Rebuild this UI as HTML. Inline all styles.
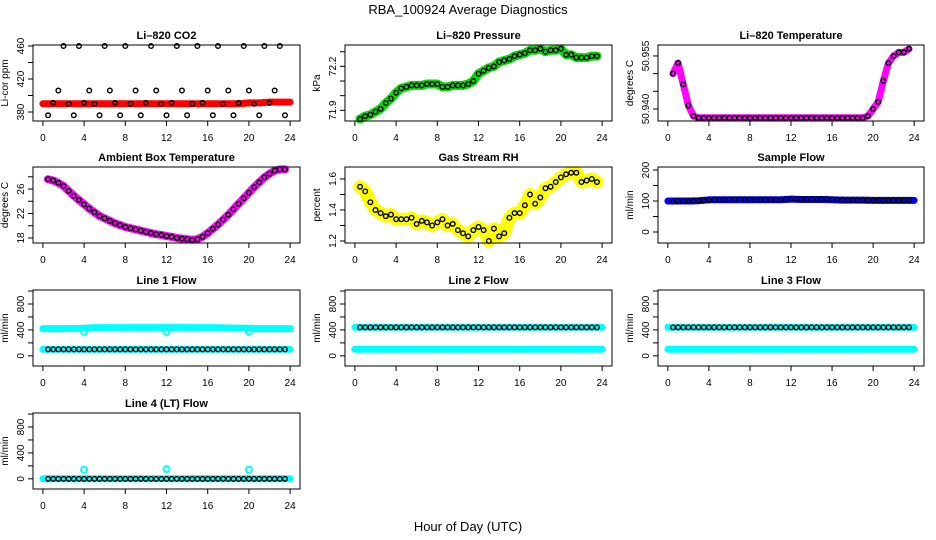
<!DOCTYPE html>
<html><head><meta charset="utf-8">
<style>
html,body{margin:0;padding:0;background:#fff;}
svg{display:block;font-family:"Liberation Sans",Arial,sans-serif;}
</style></head>
<body>
<svg id="chart" width="936" height="540" viewBox="0 0 936 540" xmlns="http://www.w3.org/2000/svg">
<text x="468" y="14" text-anchor="middle" font-size="13">RBA_100924  Average Diagnostics</text>
<text x="468" y="531" text-anchor="middle" font-size="13">Hour of Day (UTC)</text>
</svg>
<script>
const xTicks = [0,4,8,12,16,20,24];
const pointHours = [0.5,1,1.5,2,2.5,3,3.5,4,4.5,5,5.5,6,6.5,7,7.5,8,8.5,9,9.5,10,10.5,11,11.5,12,12.5,13,13.5,14,14.5,15,15.5,16,16.5,17,17.5,18,18.5,19,19.5,20,20.5,21,21.5,22,22.5,23,23.5];
const knotHours = [0,1,2,3,4,5,6,7,8,9,10,11,12,13,14,15,16,17,18,19,20,21,22,23,24];

const co2Points = [376,391,406,460,390,376,460,391,406,390,376,460,406,391,376,460,390,406,376,391,460,406,390,376,391,460,406,376,390,460,391,406,376,460,390,406,376,391,460,406,390,376,460,391,406,460,376];
const co2Band = [390,390,390,390,390,390,390,390,390,390,390,390,390,390,390,390,390,390,390,390,391,391,392,392,392];
const pressurePoints = [71.84,71.86,71.87,71.89,71.91,71.95,71.98,72.02,72.05,72.06,72.07,72.07,72.07,72.08,72.08,72.08,72.06,72.06,72.07,72.07,72.07,72.08,72.10,72.15,72.17,72.19,72.20,72.23,72.24,72.25,72.27,72.28,72.29,72.31,72.31,72.32,72.30,72.31,72.31,72.32,72.28,72.28,72.26,72.26,72.26,72.27,72.27];
const tempPoints = [50.950,50.953,50.947,50.941,50.938,50.9375,50.9375,50.9375,50.9375,50.9375,50.9375,50.9375,50.9375,50.9375,50.9375,50.9375,50.9375,50.9375,50.9375,50.9375,50.9375,50.9375,50.9375,50.9375,50.9375,50.9375,50.9375,50.9375,50.9375,50.9375,50.9375,50.9375,50.9375,50.9375,50.9375,50.9375,50.9375,50.9375,50.938,50.940,50.942,50.948,50.953,50.955,50.956,50.956,50.957];
const ambientPoints = [27.6,27.4,27,26.5,25.7,24.9,24.2,23.5,22.8,22.2,21.6,21.2,20.8,20.4,20.1,19.8,19.6,19.4,19.2,19,18.8,18.6,18.5,18.3,18.2,18,17.9,17.8,17.7,17.8,18.2,18.8,19.5,20.2,21,21.8,22.7,23.6,24.5,25.4,26.3,27.1,27.9,28.5,29,29.2,29.2];
const rhPoints = [1.55,1.52,1.45,1.40,1.38,1.36,1.37,1.34,1.34,1.34,1.35,1.31,1.33,1.32,1.30,1.32,1.34,1.30,1.31,1.27,1.25,1.23,1.27,1.29,1.27,1.20,1.28,1.23,1.25,1.35,1.38,1.38,1.43,1.50,1.44,1.48,1.54,1.55,1.58,1.61,1.63,1.64,1.64,1.58,1.59,1.60,1.58];
const samplePoints = [98,99,99,100,100,101,101,102,104,104,104,105,105,105,105,105,104,104,104,104,104,104,105,106,106,106,106,106,106,106,106,105,104,104,103,103,103,103,102,102,102,102,102,102,102,102,102];
const sampleBand = [100,100,100,101,104,104,104,104,104,104,104,104,106,105,105,105,104,103,103,103,102,102,102,102,102];
const line1Points = [100,100,100,100,100,100,100,100,100,100,100,100,100,100,100,100,100,100,100,100,100,100,100,100,100,100,100,100,100,100,100,100,100,100,100,100,100,100,100,100,100,100,100,100,100,100,100];
const line1High = [420,420,420,420,425,432,435,435,435,435,435,435,435,435,435,435,435,432,430,428,425,420,420,420,420];
const line1Low = [100,100,100,100,100,100,100,100,100,100,100,100,100,100,100,100,100,100,100,100,100,100,100,100,100];
const line2Points = [440,440,440,440,440,440,440,440,440,440,440,440,440,440,440,440,440,440,440,440,440,440,440,440,440,440,440,440,440,440,440,440,440,440,440,440,440,440,440,440,440,440,440,440,440,440,440];
const line2High = [440,440,440,440,440,440,440,440,440,440,440,440,440,440,440,440,440,440,440,440,440,440,440,440,440];
const line2Low = [100,100,100,100,100,100,100,100,100,100,100,100,100,100,100,100,100,100,100,100,100,100,100,100,100];
const line3Points = [440,440,440,440,440,440,440,440,440,440,440,440,440,440,440,440,440,440,440,440,440,440,440,440,440,440,440,440,440,440,440,440,440,440,440,440,440,440,440,440,440,440,440,440,440,440,440];
const line3High = [440,440,440,440,440,440,440,440,440,440,440,440,440,440,440,440,440,440,440,440,440,440,440,440,440];
const line3Low = [100,100,100,100,100,100,100,100,100,100,100,100,100,100,100,100,100,100,100,100,100,100,100,100,100];
const line4Points = [0,0,0,0,0,0,0,0,0,0,0,0,0,0,0,0,0,0,0,0,0,0,0,0,0,0,0,0,0,0,0,0,0,0,0,0,0,0,0,0,0,0,0,0,0,0,0];
const line4Band = [0,0,0,0,0,0,0,0,0,0,0,0,0,0,0,0,0,0,0,0,0,0,0,0,0];
const outlierHours = [4,12,20];
const line1Outliers = [370,370,370];
const line4Outliers = [140,150,140];

const flowTicks = [0,200,400,600,800,1000];
const flowLabels = ['0','','400','','800',''];

const panels = [
 {name:'co2',title:'Li\u2013820 CO2',ylab:'Li-cor ppm',col:0,row:0,ylim:[369.1,461.2],ticks:[380,400,420,440,460],labels:['380','','420','','460'],
  bands:[{h:knotHours,v:co2Band,c:'#ff0000',w:7}],pts:co2Points},
 {name:'pressure',title:'Li\u2013820 Pressure',ylab:'kPa',col:1,row:0,ylim:[71.827,72.346],ticks:[71.9,72.0,72.1,72.2,72.3],labels:['71.9','','','72.2',''],
  bands:[{h:pointHours,v:pressurePoints,c:'#00dd00',w:9}],pts:pressurePoints},
 {name:'temperature',title:'Li\u2013820 Temperature',ylab:'degrees C',col:2,row:0,ylim:[50.9366,50.9581],ticks:[50.940,50.945,50.950,50.955],labels:['50.940','','','50.955'],
  bands:[{h:pointHours,v:tempPoints,c:'#ff00ff',w:7}],pts:tempPoints},
 {name:'ambient',title:'Ambient Box Temperature',ylab:'degrees C',col:0,row:1,ylim:[17.18,29.6],ticks:[18,20,22,24,26,28],labels:['18','','22','','26',''],
  bands:[{h:pointHours,v:ambientPoints,c:'#ff00ff',w:8}],pts:ambientPoints},
 {name:'gas-rh',title:'Gas Stream RH',ylab:'percent',col:1,row:1,ylim:[1.187,1.677],ticks:[1.2,1.3,1.4,1.5,1.6],labels:['1.2','','1.4','','1.6'],
  bands:[{h:pointHours,v:rhPoints,c:'#ffff00',w:13}],pts:rhPoints},
 {name:'sample-flow',title:'Sample Flow',ylab:'ml/min',col:2,row:1,ylim:[-35.5,209.7],ticks:[0,50,100,150,200],labels:['0','','100','','200'],
  bands:[{h:knotHours,v:sampleBand,c:'#0000ff',w:7}],pts:samplePoints},
 {name:'line1-flow',title:'Line 1 Flow',ylab:'ml/min',col:0,row:2,ylim:[-157,1016],ticks:flowTicks,labels:flowLabels,
  bands:[{h:knotHours,v:line1High,c:'#00ffff',w:7},{h:knotHours,v:line1Low,c:'#00ffff',w:7}],pts:line1Points,out:line1Outliers},
 {name:'line2-flow',title:'Line 2 Flow',ylab:'ml/min',col:1,row:2,ylim:[-157,1016],ticks:flowTicks,labels:flowLabels,
  bands:[{h:knotHours,v:line2High,c:'#00ffff',w:7},{h:knotHours,v:line2Low,c:'#00ffff',w:7}],pts:line2Points},
 {name:'line3-flow',title:'Line 3 Flow',ylab:'ml/min',col:2,row:2,ylim:[-157,1016],ticks:flowTicks,labels:flowLabels,
  bands:[{h:knotHours,v:line3High,c:'#00ffff',w:7},{h:knotHours,v:line3Low,c:'#00ffff',w:7}],pts:line3Points},
 {name:'line4-flow',title:'Line 4 (LT) Flow',ylab:'ml/min',col:0,row:3,ylim:[-157,1016],ticks:flowTicks,labels:flowLabels,
  bands:[{h:knotHours,v:line4Band,c:'#00ffff',w:7}],pts:line4Points,out:line4Outliers}
];

const NS='http://www.w3.org/2000/svg';
const svg=document.getElementById('chart');
function mk(tag,attrs,parent){const e=document.createElementNS(NS,tag);for(const k in attrs)e.setAttribute(k,attrs[k]);(parent||svg).appendChild(e);return e;}

const colX=[[33,300],[345,612],[658,924]];
const rowTop=[45,167,290,413];
const boxH=76;

panels.forEach(p=>{
  const g=mk('g',{});
  
  
  const L=colX[p.col][0], R=colX[p.col][1], T=rowTop[p.row], B=T+boxH;
  const xs=h=>L+(h+0.96)/(25.92)*(R-L);
  const ys=v=>B-(v-p.ylim[0])/(p.ylim[1]-p.ylim[0])*(B-T);
  const t=mk('text',{x:(L+R)/2,y:T-6,'text-anchor':'middle','font-size':11,'font-weight':'bold'},g);
  t.textContent=p.title;
  
  
  const yl=mk('text',{x:0,y:0,'text-anchor':'middle','font-size':10,transform:`translate(${L-25},${(T+B)/2}) rotate(-90)`},g);
  yl.textContent=p.ylab;
  
  
  p.bands.forEach(b=>{
    const pts=b.h.map((h,i)=>xs(h).toFixed(1)+','+ys(b.v[i]).toFixed(1)).join(' ');
    const pl=mk('polyline',{points:pts,fill:'none',stroke:b.c,'stroke-width':b.w,'stroke-linejoin':'round','stroke-linecap':'round'},g);
    
    
  });
  if(p.out){
    outlierHours.forEach((h,i)=>{
      const c=mk('circle',{cx:xs(h),cy:ys(p.out[i]),r:3,fill:'none',stroke:'#00ffff','stroke-width':2},g);
      
      
    });
  }
  pointHours.forEach((h,i)=>{
    const c=mk('circle',{cx:xs(h),cy:ys(p.pts[i]),r:2.3,fill:'none',stroke:'#000','stroke-width':1.4},g);
    
    
  });
  const box=mk('rect',{x:L,y:T,width:R-L,height:B-T,fill:'none',stroke:'#000','stroke-width':1},g);
  
  
  xTicks.forEach(h=>{
    mk('line',{x1:xs(h),x2:xs(h),y1:B,y2:B+5,stroke:'#000'},g);
    const lt=mk('text',{x:xs(h),y:B+20,'text-anchor':'middle','font-size':10},g);
    lt.textContent=h;
    
    
  });
  p.ticks.forEach((v,i)=>{
    mk('line',{x1:L-5,x2:L,y1:ys(v),y2:ys(v),stroke:'#000'},g);
    if(p.labels[i]){
      const lt=mk('text',{x:0,y:0,'text-anchor':'middle','font-size':10,transform:`translate(${L-9},${ys(v)}) rotate(-90)`},g);
      lt.textContent=p.labels[i];
      
      
    }
  });
});
</script>
</body></html>
